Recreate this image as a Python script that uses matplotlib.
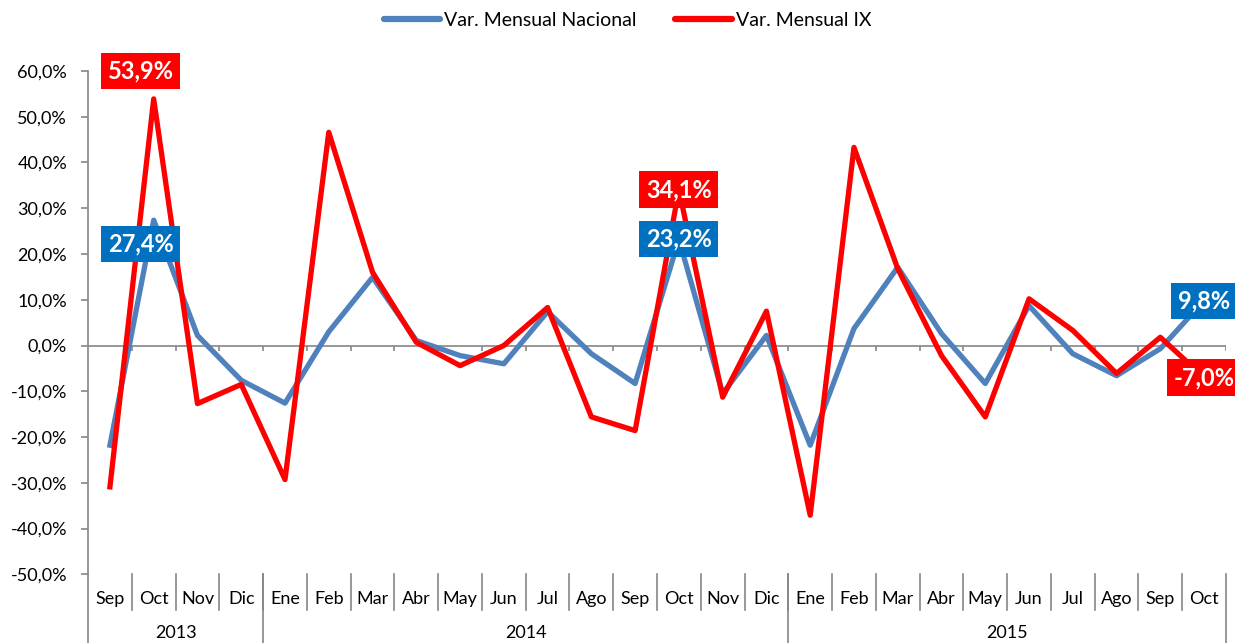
import matplotlib
matplotlib.use('Agg')
import matplotlib.pyplot as plt
from matplotlib.ticker import FuncFormatter

plt.rcParams['font.family'] = ['Lato', 'DejaVu Sans']

months = ['Sep', 'Oct', 'Nov', 'Dic', 'Ene', 'Feb', 'Mar', 'Abr', 'May', 'Jun', 'Jul', 'Ago',
          'Sep', 'Oct', 'Nov', 'Dic', 'Ene', 'Feb', 'Mar', 'Abr', 'May', 'Jun', 'Jul', 'Ago',
          'Sep', 'Oct']
years = ['2013', '2014', '2015']
year_counts = [4, 12, 10]

nacional = [-21.8, 27.4, 2.2, -7.6, -12.6, 3.0, 14.9, 1.1, -2.2, -4.0, 7.4, -1.8, -8.3,
            23.2, -10.5, 2.2, -21.8, 3.7, 17.1, 2.6, -8.3, 8.7, -1.8, -6.6, -0.7, 9.8]
ix = [-30.9, 53.9, -12.7, -8.5, -29.3, 46.6, 16.0, 0.7, -4.4, 0.0, 8.3, -15.6, -18.6,
      34.1, -11.3, 7.5, -37.1, 43.3, 16.8, -2.2, -15.6, 10.2, 3.3, -6.1, 1.8, -7.0]

labelled = [1, 13, 25]

BLUE = '#4F81BD'
RED = '#FF0000'
BOX_BLUE = '#0070C0'
GRAY = '#868686'

fig = plt.figure(figsize=(12.35, 6.43), dpi=100)
ax = fig.add_axes([0.0713, 0.1069, 0.9214, 0.7827])

x = list(range(len(months)))
ax.plot(x, nacional, color=BLUE, lw=3.8, label='Var. Mensual Nacional', zorder=3)
ax.plot(x, ix, color=RED, lw=3.8, label='Var. Mensual IX', zorder=4)

ax.set_xlim(-0.5, len(months) - 0.5)
ax.set_ylim(-50, 60)
ax.set_yticks(range(-50, 61, 10))
ax.yaxis.set_major_formatter(FuncFormatter(lambda v, p: f'{v:.1f}%'.replace('.', ',')))
ax.tick_params(axis='y', length=5, width=1.2, color=GRAY, labelsize=13, pad=10)

for s in ['top', 'right', 'bottom']:
    ax.spines[s].set_visible(False)
ax.spines['left'].set_color(GRAY)
ax.spines['left'].set_linewidth(1.2)

# zero line with small ticks at category boundaries
ax.axhline(0, color=GRAY, lw=1.2, zorder=1)
bounds = [i - 0.5 for i in range(1, len(months) + 1)]
ax.vlines(bounds, -1.3, 0, color=GRAY, lw=1.2, zorder=1)

# category axis: months and years
ax.set_xticks([])
tr = ax.get_xaxis_transform()
for i, m in enumerate(months):
    ax.text(i, -0.05, m, transform=tr, ha='center', va='center', fontsize=13, clip_on=False)
for b in [i - 0.5 for i in range(1, len(months))]:
    ax.plot([b, b], [0, -0.071], transform=tr, color=GRAY, lw=1.2, clip_on=False)
start = 0
edges = [-0.5]
for y, n in zip(years, year_counts):
    ax.text(start + (n - 1) / 2, -0.117, y, transform=tr, ha='center', va='center',
            fontsize=13, clip_on=False)
    start += n
    edges.append(start - 0.5)
for e in edges:
    ax.plot([e, e], [0, -0.15], transform=tr, color=GRAY, lw=1.2, clip_on=False)

# value labels
def fmt(v):
    return f'{v:.1f}%'.replace('.', ',')

for i in labelled:
    if i == 1:
        off_ix, off_nac = (-9.5, 20), (-9.5, -17)
    else:
        off_ix, off_nac = (0, 0), (0, 0)
    ax.annotate(fmt(ix[i]), xy=(i, ix[i]), xytext=off_ix, textcoords='offset points',
                ha='center', va='center', color='white', fontsize=17, fontweight='bold',
                bbox=dict(boxstyle='square,pad=0.28', fc=RED, ec='none'), zorder=6,
                annotation_clip=False)
    ax.annotate(fmt(nacional[i]), xy=(i, nacional[i]), xytext=off_nac, textcoords='offset points',
                ha='center', va='center', color='white', fontsize=17, fontweight='bold',
                bbox=dict(boxstyle='square,pad=0.28', fc=BOX_BLUE, ec='none'), zorder=6,
                annotation_clip=False)

leg = fig.legend(loc='center', bbox_to_anchor=(0.508, 0.968), ncol=2, frameon=False,
                 fontsize=14, handlelength=2.9, handletextpad=0.2, columnspacing=2.0)
for h in leg.get_lines():
    h.set_solid_capstyle('round')
    h.set_linewidth(4.5)

fig.savefig('out.png', dpi=100)
